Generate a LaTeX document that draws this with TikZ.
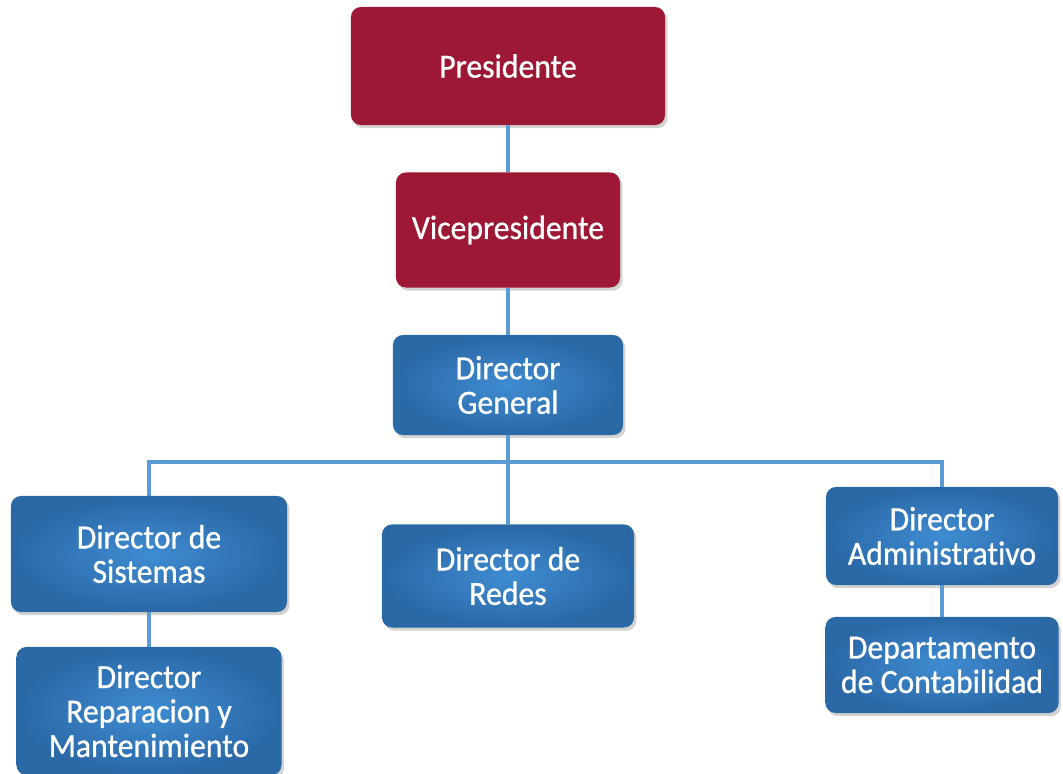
\documentclass[tikz,border=0pt]{standalone}
\usepackage{fontspec}
\setmainfont{Carlito}
\newfontfamily\cajafont{Carlito}[FakeBold=0.8, FakeStretch=0.94, Ligatures=NoCommon]
\usetikzlibrary{shadows}
\definecolor{jefe}{HTML}{9C1834}
\definecolor{azulin}{HTML}{3F8CD2}
\definecolor{azulout}{HTML}{2A68A6}
\definecolor{linea}{HTML}{5B9BD5}
\begin{document}
\begin{tikzpicture}[x=0.025cm,y=-0.025cm,
    caja/.style={rounded corners=0.25cm, align=center, text=white,
      font=\cajafont\fontsize{24}{24.5}\selectfont, inner sep=0pt,
      drop shadow={shadow xshift=0.06cm, shadow yshift=-0.08cm, opacity=0.35}},
    rojo/.style={caja, fill=jefe},
    azul/.style={caja, inner color=azulin, outer color=azulout},
    enlace/.style={draw=linea, line width=2.2pt}]  % organigrama
  \useasboundingbox (0,0) rectangle (1063,774);
  \node[rojo, minimum width=7.85cm, minimum height=2.95cm] (pres) at (508,66) {Presidente};
  \node[rojo, minimum width=5.6cm, minimum height=2.875cm] (vice) at (508,230) {Vicepresidente};
  \node[azul, minimum width=5.75cm, minimum height=2.5cm] (dg) at (508,385) {Director\\General};
  \node[azul, minimum width=6.9cm, minimum height=2.9cm] (sis) at (149,554) {Director de\\Sistemas};
  \node[azul, minimum width=6.3cm, minimum height=2.575cm] (red) at (508,576) {Director de\\Redes};
  \node[azul, minimum width=5.8cm, minimum height=2.45cm] (adm) at (942,536) {Director\\Administrativo};
  \node[azul, minimum width=5.825cm, minimum height=2.4cm] (cont) at (942,665) {Departamento\\de Contabilidad};
  \node[azul, minimum width=6.625cm, minimum height=3.2cm] (rep) at (149,711) {Director\\Reparacion y\\Mantenimiento};
  \coordinate (bus) at (508,462);
  \draw[enlace] (pres.south) -- (vice.north);
  \draw[enlace] (vice.south) -- (dg.north);
  \draw[enlace] (dg.south) -- (bus);
  \draw[enlace] (sis.north) |- (bus) -| (adm.north);
  \draw[enlace] (bus) -- (red.north);
  \draw[enlace] (sis.south) -- (rep.north);
  \draw[enlace] (adm.south) -- (cont.north);
\end{tikzpicture}
\end{document}
